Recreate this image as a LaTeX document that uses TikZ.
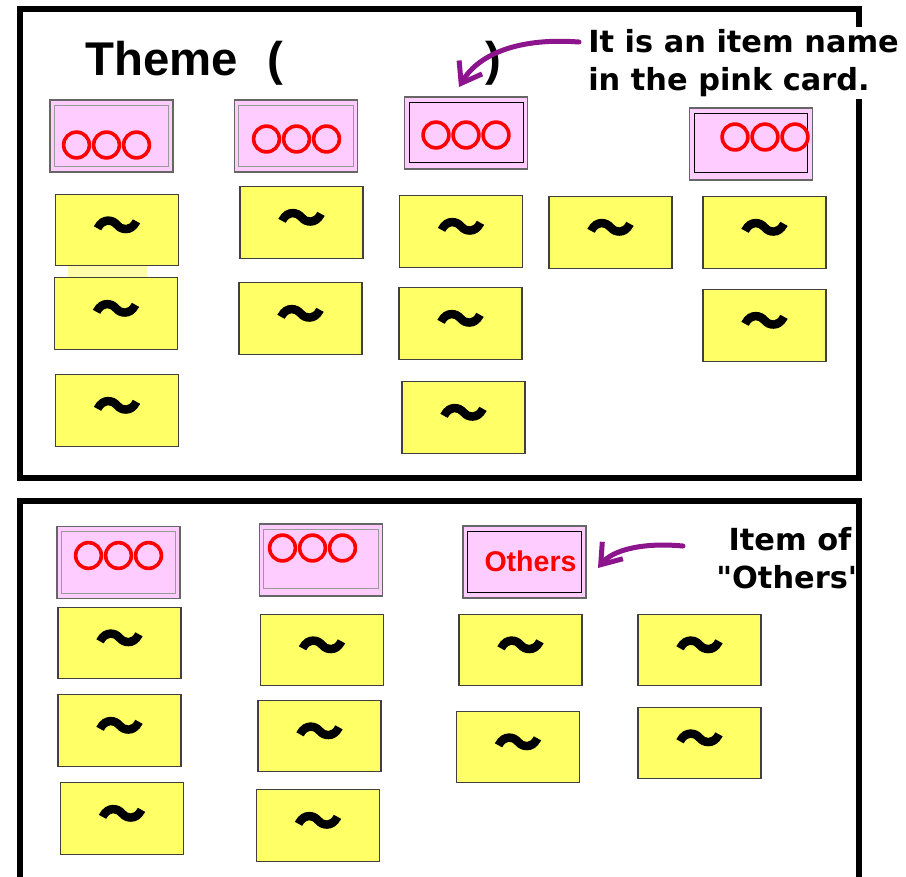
\documentclass[tikz,border=0pt]{standalone}
\usepackage{fontspec}
\setmainfont{Liberation Sans}
\newfontfamily\djv{DejaVu Sans}
\newfontfamily\cjkc{Noto Sans CJK JP}[FakeBold=8]
\newfontfamily\cjkt{Noto Sans CJK JP}[BoldFeatures={FakeBold=2.5}]
\usetikzlibrary{arrows.meta,calc}
\definecolor{yfill}{RGB}{255,255,102}
\definecolor{pfill}{RGB}{255,204,255}
\definecolor{arrowpurple}{RGB}{140,20,140}
\definecolor{pale}{RGB}{255,253,170}
\begin{document}
\begin{tikzpicture}[x=0.75pt,y=-0.75pt,
  ycard/.style={draw=black!75, line width=1pt, fill=yfill, minimum width=92.25pt, minimum height=53.6pt, inner sep=0pt, font=\cjkt\bfseries\fontsize{36}{36}\selectfont},
  pcard/.style={draw=black!60, line width=1pt, fill=pfill, minimum width=92.25pt, minimum height=54pt, inner sep=0pt},
  ingray/.style={draw=black!40, line width=0.9pt},
  inblack/.style={draw=black, line width=0.9pt},
  circs/.style={text=red, font=\cjkc\fontsize{22.5}{22.5}\selectfont, inner sep=0pt},
  panel/.style={line width=4.5pt, draw=black},
  note/.style={font=\djv\bfseries\fontsize{22.8}{28.5}\selectfont, inner sep=0pt},
  parrow/.style={draw=arrowpurple, line width=3.75pt, line cap=round, line join=round, -{Straight Barb[length=14pt,width=20pt]}}
]
\useasboundingbox (0,0) rectangle (906,876);

% ---------- top panel ----------
\draw[panel] (19.5,8.5) rectangle (858.5,477.5);

\node[font=\bfseries\fontsize{35.5}{35.5}\selectfont, anchor=base west, inner sep=0pt] (title) at (85,75) {Theme\hspace{22pt}(\hspace{152pt})};

\node[note, anchor=north west, align=left, fill=white, inner xsep=3pt, inner ysep=1.5pt] (note1) at (584,27) {It is an item name\\in the pink card.};

\coordinate (a1s) at (579,42);
\coordinate (a1e) at (459,87);
\draw[parrow] (a1s) .. controls (512,37) and (476,58) .. (a1e);

% pink cards
\node[pcard] (p1) at (111.5,136) {};
\draw[ingray] ($(p1.north west)+(5,6)$) rectangle ($(p1.south east)+(-5,-6)$);
\node[circs] (c1) at (106.5,145) {○○○};

\node[pcard] (p2) at (296,136) {};
\draw[ingray] ($(p2.north west)+(5,6)$) rectangle ($(p2.south east)+(-5,-6)$);
\node[circs] (c2) at (296.5,139) {○○○};

\node[pcard] (p3) at (466,133) {};
\draw[inblack] ($(p3.north west)+(6,6)$) rectangle ($(p3.south east)+(-5,-7)$);
\node[circs] (c3) at (466,135) {○○○};

\node[pcard] (p4) at (751,144) {};
\draw[inblack] ($(p4.north west)+(6,6)$) rectangle ($(p4.south east)+(-6,-8)$);
\node[circs] (c4) at (765,137) {○○○};

% pale strip
\fill[pale] (68,265) rectangle (147,278);

% yellow cards top
\node[ycard] (y1) at (117,230) {～};
\node[ycard] (y2) at (116,313.5) {～};
\node[ycard] (y3) at (117,410.5) {～};
\node[ycard] (y4) at (301.5,222.5) {～};
\node[ycard] (y5) at (300.5,318.5) {～};
\node[ycard] (y6) at (461,231.5) {～};
\node[ycard] (y7) at (460.5,323.5) {～};
\node[ycard] (y8) at (463.5,417.5) {～};
\node[ycard] (y9) at (610.5,232.5) {～};
\node[ycard] (y10) at (764.5,232.5) {～};
\node[ycard] (y11) at (764.5,325.5) {～};

% ---------- bottom panel ----------
\node[note, anchor=north, align=center] (note2) at (790,527) {Item of\\"Others"};

\draw[panel] (19.5,890) -- (19.5,501) -- (858.5,501) -- (858.5,890);

\coordinate (a2s) at (683,546);
\coordinate (a2e) at (598,568);
\draw[parrow] (a2s) .. controls (640,542) and (612,551) .. (a2e);

\node[pcard] (p5) at (118.5,562.5) {};
\draw[ingray] ($(p5.north west)+(5,6)$) rectangle ($(p5.south east)+(-5,-6)$);
\node[circs] (c5) at (118.5,555.5) {○○○};

\node[pcard] (p6) at (321,560) {};
\draw[ingray] ($(p6.north west)+(5,6)$) rectangle ($(p6.south east)+(-5,-8)$);
\node[circs] (c6) at (312.5,548) {○○○};

\node[pcard] (p7) at (524.5,562) {};
\draw[inblack] ($(p7.north west)+(5,6)$) rectangle ($(p7.south east)+(-5,-6)$);
\node[font=\bfseries\fontsize{21.4}{21.4}\selectfont, text=red, inner sep=0pt] (oth) at (530.5,561) {Others};

\node[ycard] (y12) at (119.5,643) {～};
\node[ycard] (y13) at (119.5,730.5) {～};
\node[ycard] (y14) at (122,818.5) {～};
\node[ycard] (y15) at (322,650) {～};
\node[ycard] (y16) at (319.5,736) {～};
\node[ycard] (y17) at (318,825.5) {～};
\node[ycard] (y18) at (520.5,650) {～};
\node[ycard] (y19) at (518,747) {～};
\node[ycard] (y20) at (699.5,650) {～};
\node[ycard] (y21) at (699.5,743) {～};
\end{tikzpicture}
\end{document}
